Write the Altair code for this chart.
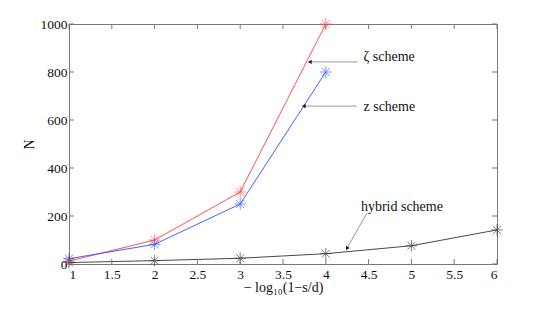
import altair as alt
import pandas as pd

# ---- data ----
x_zeta = [1, 2, 3, 4]
n_zeta = [12, 100, 300, 1000]
x_z = [1, 2, 3, 4]
n_z = [22, 82, 250, 800]
x_hyb = [1, 2, 3, 4, 5, 6]
n_hyb = [6, 14, 24, 43, 76, 142]

series_names = ["zeta", "z", "hybrid"]
series_colors = ["#ff4040", "#3050ff", "#333333"]

x_ticks = [1, 1.5, 2, 2.5, 3, 3.5, 4, 4.5, 5, 5.5, 6]
y_ticks = [0, 200, 400, 600, 800, 1000]

ann_labels = ["ζ scheme", "z scheme", "hybrid scheme"]
ann_text_x = [4.44, 4.44, 4.41]
ann_text_y = [862, 654, 237]
arrow_x_start = [4.37, 4.36, 4.48]
arrow_y_start = [842, 658, 212]
arrow_x_end = [3.82, 3.75, 4.25]
arrow_y_end = [842, 658, 67]
arrow_angle = [270, 270, 210]

W, H = 428, 240
FONT = "'Times New Roman', 'Liberation Serif', serif"

rows = []
for name, xs, ys in [("zeta", x_zeta, n_zeta), ("z", x_z, n_z), ("hybrid", x_hyb, n_hyb)]:
    for a, b in zip(xs, ys):
        rows.append({"series": name, "x": a, "n": b})
df = pd.DataFrame(rows)

ann = pd.DataFrame({
    "label": ann_labels, "tx": ann_text_x, "ty": ann_text_y,
    "x1": arrow_x_start, "y1": arrow_y_start,
    "x2": arrow_x_end, "y2": arrow_y_end, "angle": arrow_angle,
})
xt = pd.DataFrame({"v": x_ticks})
yt = pd.DataFrame({"v": y_ticks})

xs = alt.Scale(domain=[1, 6], nice=False, zero=False)
ys = alt.Scale(domain=[0, 1000], nice=False)
color = alt.Color("series:N", scale=alt.Scale(domain=series_names, range=series_colors), legend=None)

axis_font = dict(labelFont=FONT, titleFont=FONT, labelFontSize=13.5, titleFontSize=14,
                 labelColor="#111111", titleColor="#111111", titleFontWeight="normal",
                 domainColor="#777777", ticks=False, grid=False)

x_enc = alt.X("x:Q", scale=xs, title="− log₁₀(1−s/d)",
              axis=alt.Axis(values=x_ticks, format="~g",
                            labelPadding=3, titlePadding=0, **axis_font))
y_enc = alt.Y("n:Q", scale=ys, title="N",
              axis=alt.Axis(values=y_ticks, format="d",
                            labelPadding=2, titlePadding=4, **axis_font))

lines = alt.Chart(df).mark_line(strokeWidth=0.9).encode(
    x=x_enc, y=y_enc, color=color, order=alt.Order("x:Q"), detail="series:N")

star = "M-1,0L1,0M0,-1L0,1M-0.7,-0.7L0.7,0.7M-0.7,0.7L0.7,-0.7"
points = alt.Chart(df).mark_point(shape=star, size=130, strokeWidth=0.9, filled=False).encode(
    x="x:Q", y="n:Q", color=color)

tick_style = dict(color="#777777", strokeWidth=1)
bottom_ticks = alt.Chart(xt).mark_rule(**tick_style).encode(
    x=alt.X("v:Q", scale=xs), y=alt.value(H), y2=alt.value(H - 5))
top_ticks = alt.Chart(xt).mark_rule(**tick_style).encode(
    x=alt.X("v:Q", scale=xs), y=alt.value(0), y2=alt.value(5))
left_ticks = alt.Chart(yt).mark_rule(**tick_style).encode(
    y=alt.Y("v:Q", scale=ys), x=alt.value(0), x2=alt.value(5))
right_ticks = alt.Chart(yt).mark_rule(**tick_style).encode(
    y=alt.Y("v:Q", scale=ys), x=alt.value(W), x2=alt.value(W - 5))

arrow_lines = alt.Chart(ann).mark_rule(color="#999999", strokeWidth=1).encode(
    x=alt.X("x1:Q", scale=xs), y=alt.Y("y1:Q", scale=ys), x2="x2:Q", y2="y2:Q")
arrow_heads = alt.Chart(ann).mark_point(shape="triangle", filled=True, size=18,
                                        color="#111111", opacity=1).encode(
    x=alt.X("x2:Q", scale=xs), y=alt.Y("y2:Q", scale=ys), angle=alt.Angle("angle:Q", scale=None))
ann_text = alt.Chart(ann).mark_text(align="left", baseline="middle", font=FONT,
                                    fontSize=14, color="#111111").encode(
    x=alt.X("tx:Q", scale=xs), y=alt.Y("ty:Q", scale=ys), text="label:N")

chart = alt.layer(
    lines, points, bottom_ticks, top_ticks, left_ticks, right_ticks,
    arrow_lines, arrow_heads, ann_text
).properties(
    width=W, height=H,
    padding={"left": 14, "top": 8, "right": 5, "bottom": 5},
    background="white",
).configure_view(
    stroke="#777777", strokeWidth=1
)

chart.save("out.html", embed_options={"renderer": "svg", "actions": False})
